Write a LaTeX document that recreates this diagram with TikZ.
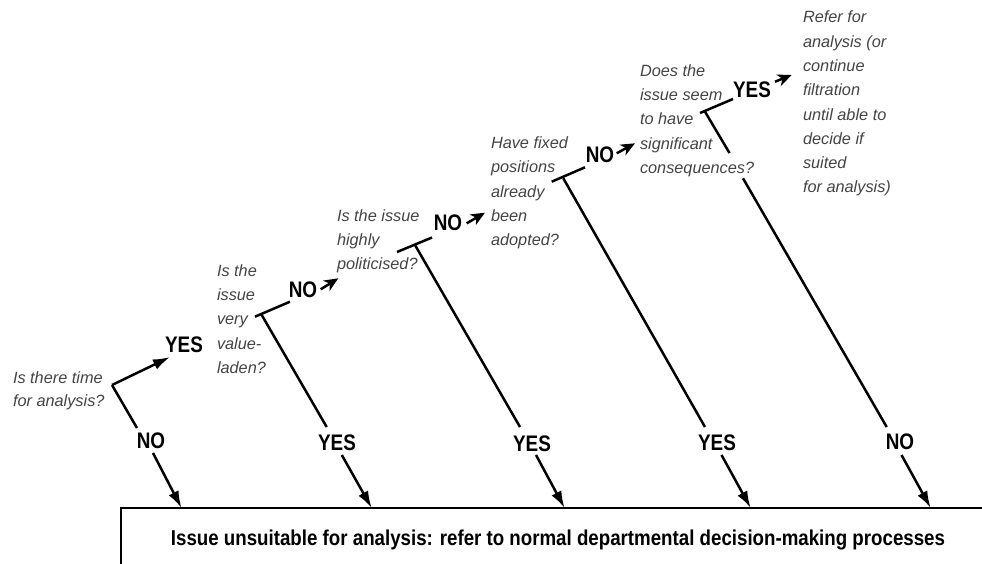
\documentclass[tikz,border=0pt]{standalone}
\usepackage{fontspec}
\setmainfont{Liberation Sans}
\newfontfamily\narrowfont[FakeStretch=0.84]{Liberation Sans}
\newfontfamily\boxfont[FakeStretch=0.87]{Liberation Sans}
\usetikzlibrary{arrows.meta}
\definecolor{qgray}{RGB}{68,68,68}
\begin{document}
\begin{tikzpicture}[x=1pt,y=-1pt,
  question/.style={anchor=north west, inner sep=0pt, outer sep=0pt, align=left, text=qgray,
    font=\fontsize{16.3}{24.3}\selectfont\itshape},
  ans/.style={inner sep=0pt, font=\narrowfont\bfseries\fontsize{22.5}{26}\selectfont},
  wire/.style={line width=2.5pt},
  arr/.style={line width=2.5pt, -{Latex[length=17pt,width=11pt]}},
  sarr/.style={line width=2.5pt, -{Stealth[length=14pt,width=12pt,inset=4pt]}},
]
\useasboundingbox (0,0) rectangle (982,563);

% questions
\node[question, font=\fontsize{16.3}{23}\selectfont\itshape] (q1) at (13,371.6) {Is there time\\for analysis?};
\node[question] (q2) at (217,264.3) {Is the\\issue\\very\\value-\\laden?};
\node[question] (q3) at (337,209.3) {Is the issue\\highly\\politicised?};
\node[question] (q4) at (491,136.6) {Have fixed\\positions\\already\\been\\adopted?};
\node[question] (q5) at (640,64.3) {Does the\\issue seem\\to have\\significant\\consequences?};
\node[question] (q6) at (803,11) {Refer for\\analysis (or\\continue\\filtration\\until able to\\decide if\\suited\\for analysis)};

% answers
\node[ans] (yes1) at (184,345) {YES};
\node[ans] (no1) at (151,441) {NO};
\node[ans] (no2) at (303,290) {NO};
\node[ans] (yes2) at (337,443) {YES};
\node[ans] (no3) at (448,223) {NO};
\node[ans] (yes3) at (532,444) {YES};
\node[ans] (no4) at (600,155) {NO};
\node[ans] (yes4) at (717,443) {YES};
\node[ans] (yes5) at (752,90) {YES};
\node[ans] (no5) at (900,442) {NO};

% bottom box
\node[draw, line width=2.5pt, anchor=north west, outer sep=0pt, inner sep=0pt,
      minimum width=874pt, minimum height=64pt,
      font=\boxfont\bfseries\fontsize{21.5}{24}\selectfont] (box) at (121,508)
  {Issue unsuitable for analysis: refer to normal departmental decision-making processes};

% coordinates
\coordinate (j1) at (112,385); \coordinate (a1) at (170,357); \coordinate (e1) at (137,428);
\coordinate (s1) at (153,453); \coordinate (b1) at (181.5,508);

\coordinate (l2) at (255,316.7); \coordinate (r2) at (290,301.7); \coordinate (j2) at (261.7,315);
\coordinate (e2) at (326.7,427); \coordinate (s2) at (341.8,455); \coordinate (b2) at (371.7,508);
\coordinate (na2) at (320.7,289.3); \coordinate (nb2) at (338.3,278.3);

\coordinate (l3) at (397,252); \coordinate (r3) at (432,237.5); \coordinate (j3) at (415,245);
\coordinate (e3) at (520,427); \coordinate (s3) at (536,455); \coordinate (b3) at (564.6,508);
\coordinate (na3) at (466.7,223.3); \coordinate (nb3) at (485,212.7);

\coordinate (l4) at (551.7,181.7); \coordinate (r4) at (585,167.3); \coordinate (j4) at (563.3,178.3);
\coordinate (e4) at (705,427); \coordinate (s4) at (721.5,455); \coordinate (b4) at (750.7,508);
\coordinate (na4) at (616.7,153.3); \coordinate (nb4) at (635,143.3);

\coordinate (l5) at (700,113); \coordinate (r5) at (733,99); \coordinate (j5) at (705,111.7);
\coordinate (g5a) at (729.5,153); \coordinate (g5b) at (743,178.3);
\coordinate (e5) at (886.7,427); \coordinate (s5) at (901.5,455); \coordinate (b5) at (930.7,508);
\coordinate (ya5) at (775,81.7); \coordinate (yb5) at (791.7,75);

% decision 1
\draw[arr] (j1) -- (a1);
\draw[wire] (j1) -- (e1);
\draw[arr] (s1) -- (b1);
% decision 2
\draw[wire] (l2) -- (r2);
\draw[wire] (j2) -- (e2);
\draw[arr] (s2) -- (b2);
\draw[sarr] (na2) -- (nb2);
% decision 3
\draw[wire] (l3) -- (r3);
\draw[wire] (j3) -- (e3);
\draw[arr] (s3) -- (b3);
\draw[sarr] (na3) -- (nb3);
% decision 4
\draw[wire] (l4) -- (r4);
\draw[wire] (j4) -- (e4);
\draw[arr] (s4) -- (b4);
\draw[sarr] (na4) -- (nb4);
% decision 5
\draw[wire] (l5) -- (r5);
\draw[wire] (j5) -- (g5a);
\draw[wire] (g5b) -- (e5);
\draw[arr] (s5) -- (b5);
\draw[sarr] (ya5) -- (yb5);
\end{tikzpicture}
\end{document}
